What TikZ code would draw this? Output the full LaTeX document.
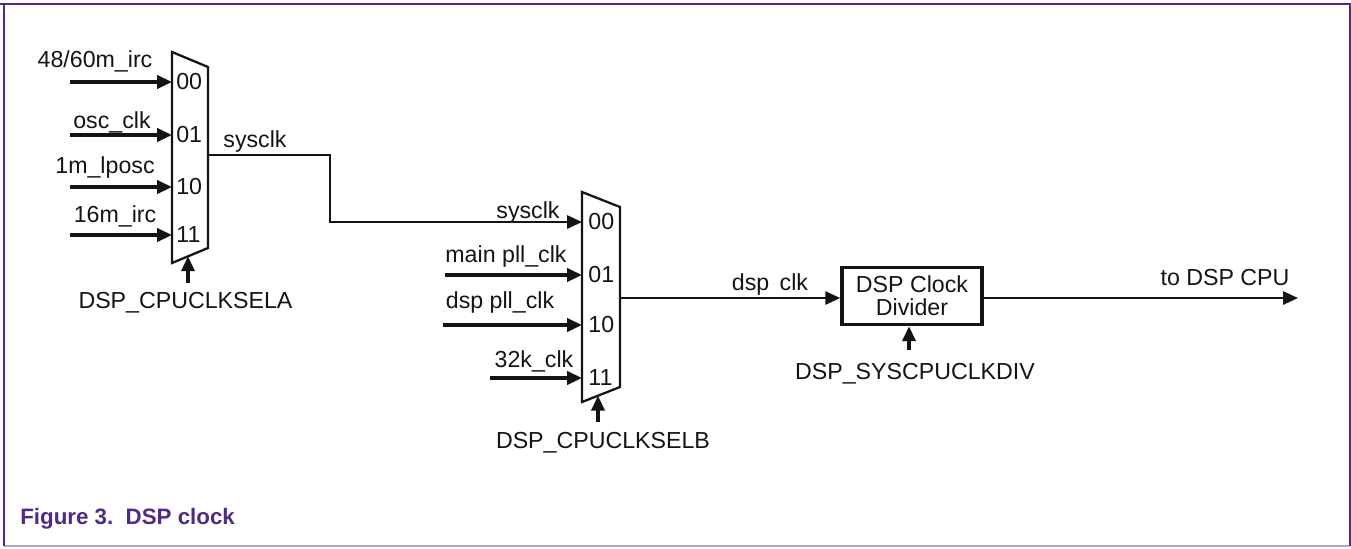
\documentclass[tikz,border=0pt]{standalone}
\usepackage{fontspec}
\setmainfont{Liberation Sans}
\usepackage{xcolor}
\usetikzlibrary{arrows.meta, positioning, calc}
\definecolor{nxppurple}{RGB}{82, 42, 132}
\definecolor{framegray}{RGB}{178, 165, 198}
\definecolor{inkgray}{RGB}{20, 20, 20}

\tikzset{
  wire/.style={line width=1.3pt, draw=inkgray},
  tipped/.style={-{Triangle[length=8.5pt, width=7.5pt]}},
  inarrow/.style={wire, tipped, line width=2pt},
  selarrow/.style={wire, tipped, line width=1.8pt},
  muxbody/.style={line width=1.3pt, draw=inkgray, fill=white},
  sig/.style={anchor=base, inner sep=0pt, text=inkgray},
  port/.style={anchor=west, inner sep=0pt, text=inkgray},
  divbox/.style={draw=inkgray, line width=2pt, minimum width=2.8cm, minimum height=1.14cm,
    align=center, inner sep=0pt, text=inkgray, font=\fontsize{13.2}{13}\selectfont}
}

\begin{document}
\begin{tikzpicture}[x=0.02cm, y=-0.02cm, every node/.style={font=\fontsize{13.2}{15}\selectfont}]
  \useasboundingbox (0,0) rectangle (1351,548);

  % Frame
  \draw[framegray, line width=0.6pt] (4,546) -- (1350,546);
  \draw[nxppurple, line width=0.6pt] (1350,4) -- (1350,546);
  \draw[nxppurple, line width=1.2pt] (4,4) -- (4,546);
  \draw[nxppurple, line width=1.7pt] (0,4) -- (1351,4);

  % First mux
  \draw[muxbody] (172,52) -- (208,67) -- (208,248) -- (172,263) -- cycle;
  \foreach \code/\yy [count=\i] in {00/82, 01/135, 10/187, 11/235} {
    \coordinate (a\i) at (172,\yy);
    \node[port] (pa\i) at (176,\yy) {\code};
  }
  \coordinate (aout) at (208,155);
  \coordinate (asel) at (188,256.3);

  % Second mux
  \draw[muxbody] (582,192) -- (620,207) -- (620,387) -- (582,402) -- cycle;
  \foreach \code/\yy [count=\i] in {00/222, 01/275, 10/325, 11/378} {
    \coordinate (b\i) at (582,\yy);
    \node[port] (pb\i) at (588,\yy) {\code};
  }
  \coordinate (bout) at (620,298);
  \coordinate (bsel) at (598,395.7);

  % Inputs of the first mux
  \coordinate (irc48) at (70,82);
  \coordinate (osc) at (70,135);
  \coordinate (lposc) at (70,187);
  \coordinate (irc16) at (70,235);
  \draw[inarrow] (irc48) -- (a1);
  \draw[inarrow] (osc) -- (a2);
  \draw[inarrow] (lposc) -- (a3);
  \draw[inarrow] (irc16) -- (a4);
  \node[sig] (lirc48) at (95,67) {48/60m\_irc};
  \node[sig] (losc) at (112,128) {osc\_clk};
  \node[sig] (llposc) at (105,173) {1m\_lposc};
  \node[sig] (lirc16) at (115,222) {16m\_irc};

  % Select of the first mux
  \coordinate (aselsrc) at (188,283);
  \draw[selarrow] (aselsrc) -- (asel);
  \node[sig] (lasel) at (185.5,308) {DSP\_CPUCLKSELA};

  % sysclk wire
  \draw[wire, tipped] (aout) -- ++(122,0) |- (b1);
  \node[sig] (lsysa) at (255,147) {sysclk};
  \node[sig] (lsysb) at (528,218) {sysclk};

  % Inputs of the second mux
  \coordinate (mainpll) at (445,275);
  \coordinate (dsppll) at (443,325);
  \coordinate (k32) at (490,378);
  \draw[inarrow] (mainpll) -- (b2);
  \draw[inarrow] (dsppll) -- (b3);
  \draw[inarrow] (k32) -- (b4);
  \node[sig] (lmainpll) at (506,262) {main pll\_clk};
  \node[sig] (ldsppll) at (500,308) {dsp pll\_clk};
  \node[sig] (lk32) at (534,367) {32k\_clk};

  % Select of the second mux
  \coordinate (bselsrc) at (598,422);
  \draw[selarrow] (bselsrc) -- (bsel);
  \node[sig] (lbsel) at (603,448) {DSP\_CPUCLKSELB};

  % Divider
  \node[divbox] (div) at (912,296) {DSP Clock\\Divider};
  \draw[wire, tipped] (bout) -- (bout -| div.west);
  \node[sig] (ldspclk) at (770,290) {dsp\hspace{0.45em}clk};
  \coordinate (divsrc) at (909,350);
  \draw[selarrow] (divsrc) -- (divsrc |- div.south);
  \node[sig] (ldivsel) at (915,379) {DSP\_SYSCPUCLKDIV};

  % Output
  \coordinate (cpu) at (1298,298);
  \draw[wire, tipped] (div.east |- cpu) -- (cpu);
  \node[sig] (lcpu) at (1225,285) {to DSP CPU};

  % Caption
  \node[anchor=base west, inner sep=0pt, text=nxppurple, font=\bfseries\fontsize{12.7}{15}\selectfont]
    (caption) at (20,524) {Figure 3.\ \ DSP clock};
\end{tikzpicture}
\end{document}
